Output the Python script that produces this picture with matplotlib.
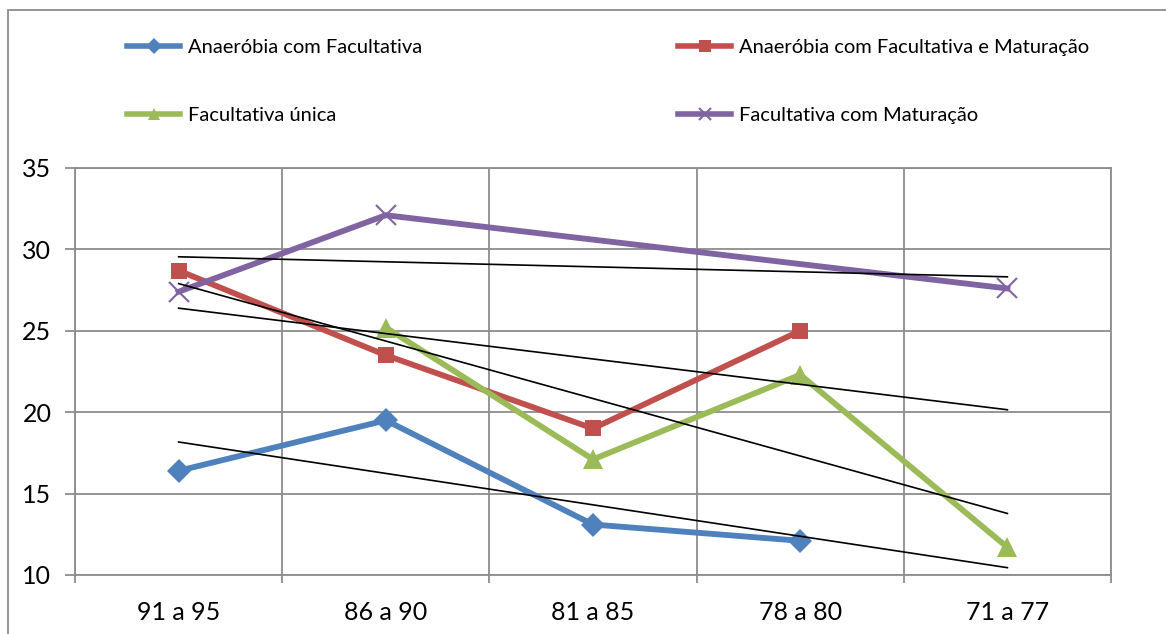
import numpy as np
import matplotlib.pyplot as plt
from matplotlib.patches import Rectangle

plt.rcParams['font.family'] = ['Lato', 'DejaVu Sans']

categories = ['91 a 95', '86 a 90', '81 a 85', '78 a 80', '71 a 77']
anaerobia_facultativa = [16.4, 19.5, 13.1, 12.1, np.nan]
anaerobia_fac_maturacao = [28.7, 23.5, 19.0, 25.0, np.nan]
facultativa_unica = [np.nan, 25.2, 17.1, 22.3, 11.7]
facultativa_maturacao = [27.4, 32.1, np.nan, np.nan, 27.6]

series = [
    ('Anaeróbia com Facultativa', anaerobia_facultativa, '#4F81BD', 'D', 12),
    ('Anaeróbia com Facultativa e Maturação', anaerobia_fac_maturacao, '#C0504D', 's', 12),
    ('Facultativa única', facultativa_unica, '#9BBB59', '^', 14),
    ('Facultativa com Maturação', facultativa_maturacao, '#8064A2', 'x', 14),
]

fig = plt.figure(figsize=(11.66, 6.34), dpi=100)
ax = fig.add_axes([75/1166, 59/634, 1036/1166, 407/634])

x = np.arange(1, len(categories) + 1)
handles = []
for name, vals, color, marker, ms in series:
    y = np.array(vals, dtype=float)
    ok = ~np.isnan(y)
    h, = ax.plot(x[ok], y[ok], color=color, lw=4.2, marker=marker, ms=ms,
                 mew=1.5 if marker == 'x' else 0, mec=color, label=name,
                 solid_joinstyle='round', zorder=3)
    handles.append(h)
    # linear trendline (excel style, extended over all categories)
    k, b = np.polyfit(x[ok], y[ok], 1)
    ax.plot([x[0], x[-1]], [k * x[0] + b, k * x[-1] + b], color='black', lw=1.2, zorder=4)

ax.set_xlim(0.5, len(categories) + 0.5)
ax.set_ylim(10, 35)
ax.set_yticks(np.arange(10, 36, 5))
ax.set_xticks(x)
ax.set_xticklabels(categories)
ax.set_xticks(np.arange(0.5, len(categories) + 1, 1), minor=True)

ax.grid(which='minor', axis='x', color='#8c8c8c', lw=1.3)
ax.grid(which='major', axis='y', color='#8c8c8c', lw=1.3)
ax.set_axisbelow(True)
for s in ax.spines.values():
    s.set_color('#8c8c8c')
    s.set_linewidth(1.3)

ax.tick_params(axis='x', which='major', length=0, pad=19, labelsize=18)
ax.tick_params(axis='x', which='minor', length=6, width=1.3, color='#8c8c8c', direction='out')
ax.tick_params(axis='y', length=7, width=1.3, color='#8c8c8c', pad=10, labelsize=18)

legs = []
for hs, x0 in (([handles[0], handles[2]], 109), ([handles[1], handles[3]], 660)):
    lg = fig.legend(handles=hs, loc='upper left', bbox_to_anchor=(x0/1166, 1 - 21/634),
                    frameon=False, fontsize=14.5, handlelength=2.65, handletextpad=0.35,
                    labelspacing=2.5)
    for ln in lg.get_lines():
        ln.set_linewidth(4)
        ln.set_markersize(8)
    legs.append(lg)

fig.patches.append(Rectangle((8/1166, -0.1), 1.2, 1.1 - 10/634, transform=fig.transFigure,
                             fill=False, edgecolor='#8c8c8c', lw=1.3))

fig.savefig('out.png', dpi=100)
